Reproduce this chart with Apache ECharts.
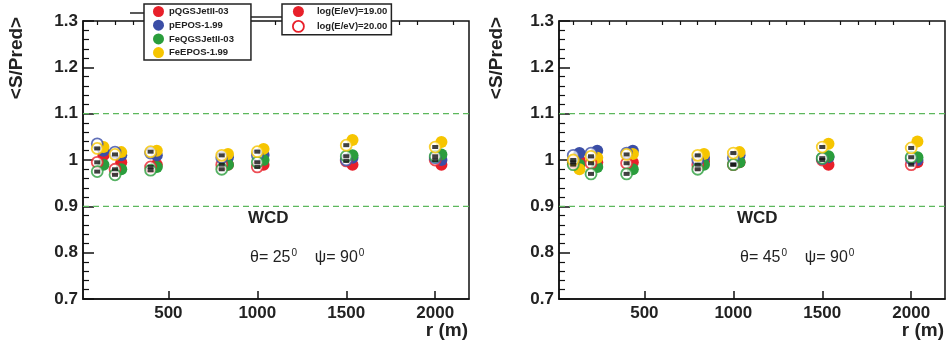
<!DOCTYPE html>
<html><head><meta charset="utf-8">
<script src="https://cdn.jsdelivr.net/npm/echarts@6/dist/echarts.min.js"></script>
<style>html,body{margin:0;padding:0;background:#fff}#c{width:949px;height:349px}</style>
</head><body><div id="c"></div>
<script>
const radii = [100, 200, 400, 800, 1000, 1500, 2000];
const models = ['pQGSJetII-03', 'pEPOS-1.99', 'FeQGSJetII-03', 'FeEPOS-1.99'];
const energyLabels = ['log(E/eV)=19.00', 'log(E/eV)=20.00'];
const xTickLabels = [500, 1000, 1500, 2000];
const yTickLabels = [0.7, 0.8, 0.9, 1.0, 1.1, 1.2, 1.3];
const refLines = [1.1, 0.9];

// theta = 25 deg panel
const t25_pQGS_19  = [1.010, 0.995, 0.990, 0.990, 0.990, 0.990, 0.990];
const t25_pQGS_20  = [0.995, 0.980, 0.985, 0.990, 0.985, 0.998, 1.000];
const t25_pEPOS_19 = [1.020, 1.010, 1.010, 1.006, 1.011, 1.005, 1.000];
const t25_pEPOS_20 = [1.035, 1.017, 1.015, 1.005, 1.010, 1.000, 1.005];
const t25_FeQGS_19 = [0.990, 0.980, 0.985, 0.990, 1.000, 1.010, 1.012];
const t25_FeQGS_20 = [0.975, 0.968, 0.978, 0.980, 0.995, 1.008, 1.008];
const t25_FeEPOS_19= [1.028, 1.017, 1.020, 1.013, 1.024, 1.043, 1.039];
const t25_FeEPOS_20= [1.025, 1.012, 1.018, 1.010, 1.018, 1.032, 1.028];
// theta = 45 deg panel
const t45_pQGS_19  = [1.000, 0.995, 0.995, 0.997, 0.995, 0.990, 0.995];
const t45_pQGS_20  = [0.995, 0.993, 0.993, 0.990, 0.990, 1.000, 0.990];
const t45_pEPOS_19 = [1.015, 1.020, 1.020, 1.005, 1.010, 1.006, 1.000];
const t45_pEPOS_20 = [1.010, 1.015, 1.015, 1.000, 1.005, 1.003, 1.003];
const t45_FeQGS_19 = [0.990, 0.985, 0.980, 0.990, 0.995, 1.008, 1.006];
const t45_FeQGS_20 = [0.990, 0.970, 0.970, 0.980, 0.990, 1.004, 1.006];
const t45_FeEPOS_19= [0.980, 1.005, 1.013, 1.013, 1.017, 1.035, 1.040];
const t45_FeEPOS_20= [1.000, 1.008, 1.012, 1.010, 1.015, 1.028, 1.026];

const panels = [
  {e19: [t25_pQGS_19, t25_pEPOS_19, t25_FeQGS_19, t25_FeEPOS_19],
   e20: [t25_pQGS_20, t25_pEPOS_20, t25_FeQGS_20, t25_FeEPOS_20]},
  {e19: [t45_pQGS_19, t45_pEPOS_19, t45_FeQGS_19, t45_FeEPOS_19],
   e20: [t45_pQGS_20, t45_pEPOS_20, t45_FeQGS_20, t45_FeEPOS_20]}
];

const colors = ['#e8202a', '#3b4ea6', '#2a9d3c', '#f6c500'];
const GREEN_DASH = '#5cb85c';
const FONT = 'Liberation Sans, Arial, Helvetica, sans-serif';
const grids = [
  {left: 83, top: 21, width: 386, height: 278},
  {left: 559, top: 21, width: 386, height: 278}
];
const XMIN = 20, XMAX = 2190;
const minorX = [];
for (let v = 100; v <= 2100; v += 100) if (v % 500 !== 0) minorX.push(v);
const FILL_SHIFT = 35;

const xAxis = [], yAxis = [], series = [];
grids.forEach((g, p) => {
  xAxis.push({
    type: 'value', gridIndex: p, min: XMIN, max: XMAX,
    axisLine: {show: true, lineStyle: {color: '#111', width: 1.5}},
    axisTick: {show: true, inside: true, length: 8, customValues: xTickLabels, lineStyle: {color: '#111', width: 1.5}},
    axisLabel: {show: true, customValues: xTickLabels, fontFamily: FONT, fontWeight: 'bold', fontSize: 17, color: '#222', margin: 6,
      formatter: v => String(Math.round(v))},
    splitLine: {show: false}
  });
  xAxis.push({
    type: 'value', gridIndex: p, min: XMIN, max: XMAX,
    axisLine: {show: false},
    axisTick: {show: true, inside: true, length: 4, customValues: minorX, lineStyle: {color: '#111', width: 1.2}},
    axisLabel: {show: false},
    splitLine: {show: false}
  });
  yAxis.push({
    type: 'value', gridIndex: p, min: 0.7, max: 1.3, interval: 0.1,
    axisLine: {show: true, lineStyle: {color: '#111', width: 1.5}},
    axisTick: {show: true, inside: true, length: 11, lineStyle: {color: '#111', width: 1.5}},
    minorTick: {show: true, splitNumber: 5, length: 6, lineStyle: {color: '#111', width: 1.2}},
    axisLabel: {fontFamily: FONT, fontWeight: 'bold', fontSize: 17, color: '#222', margin: 5,
      formatter: v => String(+v.toFixed(1))},
    splitLine: {show: false}, minorSplitLine: {show: false}
  });

  // reference dashed lines at 1.1 and 0.9
  refLines.forEach((v, j) => {
    series.push({
      type: 'line', name: 'ref' + p + '_' + j, xAxisIndex: p * 2, yAxisIndex: p,
      data: [[XMIN, v], [XMAX, v]], showSymbol: false, symbol: 'none', silent: true, z: 1,
      color: GREEN_DASH,
      lineStyle: {color: GREEN_DASH, type: [6, 4], width: 1.2}
    });
  });
  // filled: 10^19 eV
  models.forEach((m, k) => {
    series.push({
      type: 'scatter', name: m, xAxisIndex: p * 2, yAxisIndex: p,
      symbol: 'circle', symbolSize: 12, z: 3,
      itemStyle: {color: colors[k], opacity: 1},
      data: radii.map((r, i) => [r + FILL_SHIFT, panels[p].e19[k][i]])
    });
  });
  // open: 10^20 eV
  models.forEach((m, k) => {
    series.push({
      type: 'scatter', name: m + ' (20)', xAxisIndex: p * 2, yAxisIndex: p,
      symbol: 'circle', symbolSize: 11, z: 4,
      itemStyle: {color: 'rgba(255,255,255,0.9)', borderColor: colors[k], borderWidth: 1.8},
      data: radii.map((r, i) => [r, panels[p].e20[k][i]])
    });
  });
  // black square markers inside open circles
  series.push({
    type: 'scatter', name: 'sq' + p, xAxisIndex: p * 2, yAxisIndex: p,
    symbol: 'rect', symbolSize: [6, 4], z: 5, silent: true,
    itemStyle: {color: '#111'},
    data: [].concat(...[0, 2, 3].map(k => radii.map((r, i) => [r, panels[p].e20[k][i]])))
  });
});
// dummy series for the energy legend
series.push({type: 'scatter', name: energyLabels[0], xAxisIndex: 0, yAxisIndex: 0, data: [],
  symbol: 'circle', itemStyle: {color: colors[0], opacity: 1}});
series.push({type: 'scatter', name: energyLabels[1], xAxisIndex: 0, yAxisIndex: 0, data: [],
  symbol: 'emptyCircle', itemStyle: {color: colors[0], opacity: 1}});

const legendText = {fontFamily: FONT, fontWeight: 'bold', fontSize: 9.5, color: '#222'};
const option = {
  backgroundColor: '#fff',
  animation: false,
  grid: grids.map(g => Object.assign({show: true, borderColor: '#111', borderWidth: 1.5, backgroundColor: 'transparent'}, g)),
  xAxis, yAxis, series,
  legend: [
    {left: 144, top: 4, orient: 'vertical', itemWidth: 11, itemHeight: 11, itemGap: 2.7,
     padding: [2, 17, 2, 9], borderColor: '#222', borderWidth: 1.5, backgroundColor: '#fff',
     textStyle: legendText, selectedMode: false,
     data: models.map((m, k) => ({name: m, icon: 'circle', itemStyle: {color: colors[k], borderWidth: 0, opacity: 1}}))},
    {left: 282, top: 4, orient: 'vertical', itemWidth: 11, itemHeight: 11, itemGap: 3,
     padding: [2, 4, 2, 10], borderColor: '#222', borderWidth: 1.5, backgroundColor: '#fff',
     textStyle: Object.assign({padding: [0, 0, 0, 8]}, legendText), selectedMode: false,
     data: [
       {name: energyLabels[0], icon: 'circle', itemStyle: {color: colors[0], borderWidth: 0, opacity: 1}},
       {name: energyLabels[1], icon: 'circle', itemStyle: {color: '#fff', borderColor: colors[0], borderWidth: 1.8, opacity: 1}}
     ]}
  ],
  graphic: [
    {type: 'line', shape: {x1: 130, y1: 13, x2: 144, y2: 13}, style: {stroke: '#222', lineWidth: 1.5}},
    {type: 'line', shape: {x1: 247, y1: 17, x2: 282, y2: 17}, style: {stroke: '#222', lineWidth: 1.5}},
    {type: 'text', x: 17, y: 58, rotation: Math.PI / 2,
     style: {text: '<S/Pred>', font: 'bold 19px ' + FONT, fill: '#222', align: 'center', verticalAlign: 'middle'}},
    {type: 'text', x: 497, y: 58, rotation: Math.PI / 2,
     style: {text: '<S/Pred>', font: 'bold 19px ' + FONT, fill: '#222', align: 'center', verticalAlign: 'middle'}},
    {type: 'text', x: 468, y: 331,
     style: {text: 'r (m)', font: 'bold 19px ' + FONT, fill: '#222', align: 'right', verticalAlign: 'middle'}},
    {type: 'text', x: 944, y: 331,
     style: {text: 'r (m)', font: 'bold 19px ' + FONT, fill: '#222', align: 'right', verticalAlign: 'middle'}},
    {type: 'text', x: 248, y: 218,
     style: {text: 'WCD', font: 'bold 17px ' + FONT, fill: '#222', verticalAlign: 'middle'}},
    {type: 'text', x: 737, y: 218,
     style: {text: 'WCD', font: 'bold 17px ' + FONT, fill: '#222', verticalAlign: 'middle'}},
    {type: 'text', x: 250, y: 258,
     style: {text: '{n|θ= 25}{s|0}{n|    ψ= 90}{s|0}', verticalAlign: 'middle', fill: '#222',
       rich: {n: {fontFamily: FONT, fontSize: 16, fill: '#222'},
              s: {fontFamily: FONT, fontSize: 10, fill: '#222', padding: [0, 0, 9, 1]}}}},
    {type: 'text', x: 740, y: 258,
     style: {text: '{n|θ= 45}{s|0}{n|    ψ= 90}{s|0}', verticalAlign: 'middle', fill: '#222',
       rich: {n: {fontFamily: FONT, fontSize: 16, fill: '#222'},
              s: {fontFamily: FONT, fontSize: 10, fill: '#222', padding: [0, 0, 9, 1]}}}}
  ]
};
const chart = echarts.init(document.getElementById('c'), null, {renderer: 'canvas'});
chart.setOption(option);
</script></body></html>
